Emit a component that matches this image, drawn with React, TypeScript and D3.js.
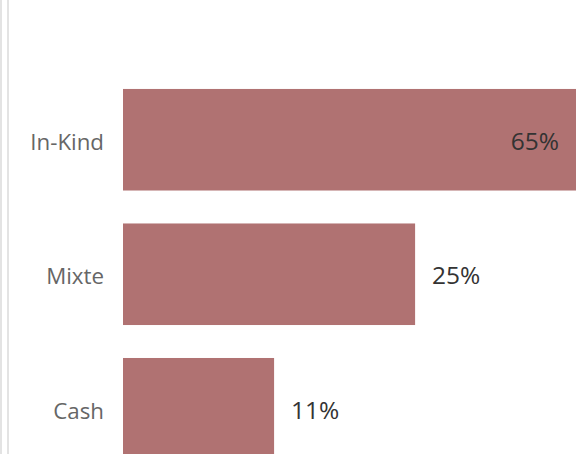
import React from "react";
import * as d3 from "d3";

const categories = ["In-Kind", "Mixte", "Cash"];
const values = [65, 25, 11];
const labels = ["65%", "25%", "11%"];
const title = "Modalités d'assistance totale";

const W = 576;
const H = 454;

export default function App() {
  const y = d3.scaleBand<string>().domain(categories).range([56, 492.5]).paddingInner(0.245).paddingOuter(0.245);
  const x = d3.scaleLinear().domain([-4, 65]).range([123, 818]);
  const font = "'Open Sans', 'Noto Sans', sans-serif";
  return (
    <div style={{ position: "fixed", left: 0, top: 0, width: W, height: H, background: "#fff", overflow: "hidden" }}>
      <svg width={W} height={H} style={{ display: "block" }}>
        <line x1={1} x2={1} y1={0} y2={H} stroke="#e3e3e3" strokeWidth={2} />
        <line x1={8} x2={8} y1={0} y2={H} stroke="#e3e3e3" strokeWidth={2} />
        <text x={52} y={-1} fontFamily={font} fontSize={23} fontWeight={600} fill="#777">{title}</text>
        {categories.map((c, i) => {
          const y0 = y(c)!;
          const bw = y.bandwidth();
          const xe = x(values[i]);
          const inside = xe > W;
          return (
            <g key={c}>
              <rect x={x(-4)} y={y0} width={xe - x(-4)} height={bw} fill="#b07272" />
              <text x={104} y={y0 + bw / 2 + 2} dy="0.35em" textAnchor="end" fontFamily={font} fontSize={22.3} fill="#666">{c}</text>
              <text x={inside ? 559 : xe + 17} y={y0 + bw / 2 + 1.5} dy="0.35em" textAnchor={inside ? "end" : "start"} fontFamily={font} fontSize={24.5} fill="#333">{labels[i]}</text>
            </g>
          );
        })}
      </svg>
    </div>
  );
}
